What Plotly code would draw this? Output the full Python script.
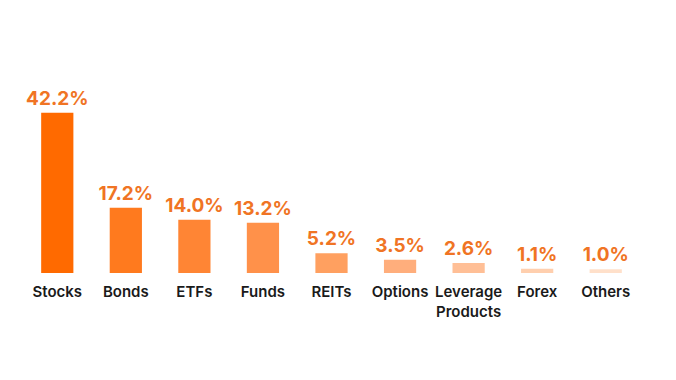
import plotly.graph_objects as go

categories = ["Stocks", "Bonds", "ETFs", "Funds", "REITs", "Options", "Leverage<br>Products", "Forex", "Others"]
values = [42.2, 17.2, 14.0, 13.2, 5.2, 3.5, 2.6, 1.1, 1.0]
value_labels = ["42.2%", "17.2%", "14.0%", "13.2%", "5.2%", "3.5%", "2.6%", "1.1%", "1.0%"]
bar_colors = ["#FF6A00", "#FF7A1E", "#FF8534", "#FF914A", "#FFA060", "#FFAE7C", "#FFBF96", "#FFCFAE", "#FFE0CA"]

W, H = 668, 372

fig = go.Figure(go.Bar(
    x=categories,
    y=values,
    text=value_labels,
    textposition="outside",
    constraintext="none",
    cliponaxis=False,
    marker=dict(color=bar_colors, line=dict(width=0)),
    textfont=dict(family="Inter", size=19, color="#F07424", weight=700),
    hoverinfo="skip",
))

fig.update_layout(
    width=W,
    height=H,
    margin=dict(l=0, r=0, t=0, b=0, autoexpand=False),
    paper_bgcolor="white",
    plot_bgcolor="white",
    bargap=0.53,
    showlegend=False,
    xaxis=dict(
        domain=[15 / W, 632 / W],
        showgrid=False, zeroline=False, showline=False, ticks="",
        automargin=False, ticklabelstandoff=8,
        tickfont=dict(family="Inter", size=15, color="#1a1a1a", weight=600),
    ),
    yaxis=dict(visible=False, range=[0, 45], automargin=False,
               domain=[107 / H, (H - 94) / H]),
    shapes=[dict(
        type="line", xref="paper", yref="paper", layer="above",
        x0=665 / W, x1=665 / W, y0=(H - 327) / H, y1=1.0,
        line=dict(color="#F8DAC7", width=2),
    )],
)

fig.write_html("out.html")
